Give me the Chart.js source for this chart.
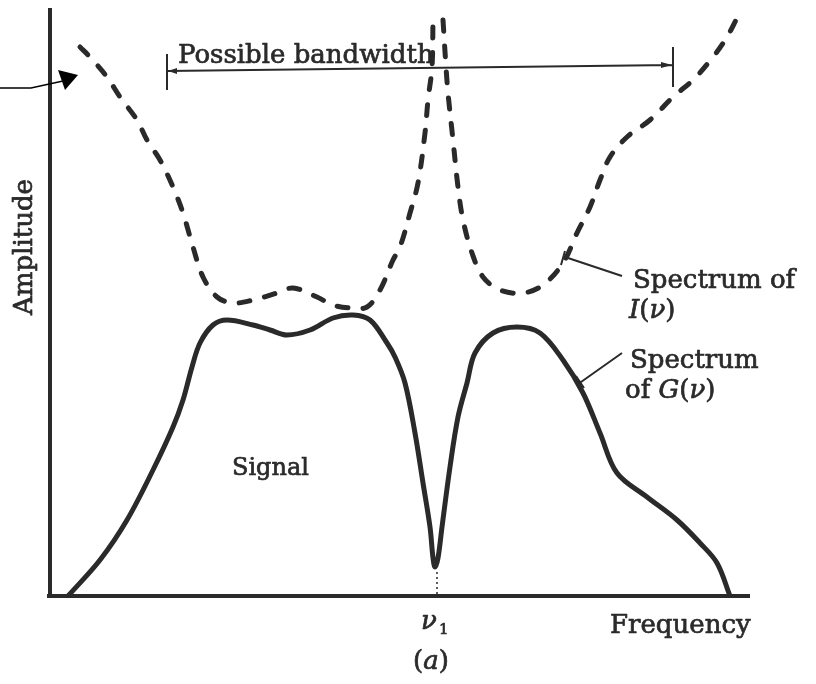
<!DOCTYPE html>
<html><head><meta charset="utf-8">
<script src="https://cdn.jsdelivr.net/npm/chart.js@4.4.1/dist/chart.umd.min.js"></script>
<style>html,body{margin:0;padding:0;background:#fff}canvas{display:block}</style>
</head><body>
<canvas id="c" width="816" height="684"></canvas>
<script>
// Spectrum of G(v) (solid)
const gFreq = [18, 50, 77, 103, 123, 133, 142, 150, 163, 177, 203, 220, 237, 260, 283, 303, 320, 337, 345, 355, 365, 373, 380, 383, 385, 388, 392, 400, 408, 417, 425, 443, 467, 490, 513, 533, 550, 567, 597, 627, 650, 667, 680];
const gAmp  = [0, 36, 76, 126, 169, 196, 229, 253, 271, 276, 271, 266, 261, 266, 278, 281, 276, 253, 239, 213, 163, 113, 69, 38, 29, 38, 69, 129, 179, 213, 243, 263, 269, 263, 236, 203, 163, 123, 99, 76, 53, 33, 0];
// Spectrum of I(v) (dashed) - peak at v1 runs off the top (gap)
const iFreq = [30, 40, 57, 70, 87, 97, 110, 123, 133, 143, 153, 167, 183, 203, 227, 243, 267, 283, 300, 317, 330, 343, 350, 360, 368, 375, 378, 382, 383, 388, 393, 396, 398, 403, 408, 413, 422, 433, 450, 473, 493, 513, 527, 540, 550, 560, 577, 600, 623, 643, 663, 677, 687];
const iAmp  = [549, 539, 519, 499, 476, 456, 436, 409, 383, 349, 319, 299, 293, 296, 303, 308, 299, 291, 288, 289, 306, 336, 349, 383, 413, 463, 496, 529, 576, null, 576, 529, 503, 456, 409, 376, 343, 319, 306, 303, 311, 333, 363, 389, 416, 439, 459, 476, 499, 516, 539, 559, 578];
const nu1 = 386;
const bandwidthFrom = 117, bandwidthTo = 623;
const bandwidthLevelFrom = 525, bandwidthLevelTo = 531;
const xMax = 700, yMax = 588;

const INK = '#2a2a2a';
const FONT = '"DejaVu Serif", "Liberation Serif", serif';

function toPts(xs, ys) { return xs.map((x, k) => ({ x: x, y: ys[k] })); }

function drawRuns(ctx, x, y, parts, size) {
  for (const p of parts) {
    ctx.font = (p.i ? 'italic ' : '') + size + 'px ' + FONT;
    ctx.strokeText(p.t, x, y);
    ctx.fillText(p.t, x, y);
    x += ctx.measureText(p.t).width;
  }
}

const decor = {
  id: 'decor',
  afterDatasetsDraw(chart) {
    const ctx = chart.ctx;
    const X = chart.scales.x, Y = chart.scales.y;
    const px = v => X.getPixelForValue(v), py = v => Y.getPixelForValue(v);
    ctx.save();
    ctx.strokeStyle = INK; ctx.fillStyle = INK; ctx.lineCap = 'butt';
    // axes
    ctx.lineWidth = 4;
    ctx.beginPath();
    ctx.moveTo(px(0), py(yMax)); ctx.lineTo(px(0), py(0) + 2);
    ctx.moveTo(px(0) - 3, py(0)); ctx.lineTo(px(xMax), py(0));
    ctx.stroke();
    // dotted line at v1
    ctx.lineWidth = 1.5; ctx.setLineDash([2, 3]);
    ctx.beginPath(); ctx.moveTo(px(nu1) + 1, py(24)); ctx.lineTo(px(nu1) + 1, py(0)); ctx.stroke();
    ctx.setLineDash([]);
    // bandwidth bracket
    const bx1 = px(bandwidthFrom), by1 = py(bandwidthLevelFrom);
    const bx2 = px(bandwidthTo), by2 = py(bandwidthLevelTo);
    ctx.lineWidth = 2;
    ctx.beginPath();
    ctx.moveTo(bx1, by1); ctx.lineTo(bx2, by2);
    ctx.moveTo(bx1, by1 - 17); ctx.lineTo(bx1, by1 + 19);
    ctx.moveTo(bx2, by2 - 18); ctx.lineTo(bx2, by2 + 22);
    ctx.stroke();
    ctx.beginPath();
    ctx.moveTo(bx1 + 1, by1); ctx.lineTo(bx1 + 10, by1 - 3); ctx.lineTo(bx1 + 10, by1 + 3); ctx.closePath();
    ctx.moveTo(bx2 - 1, by2); ctx.lineTo(bx2 - 12, by2 - 3); ctx.lineTo(bx2 - 12, by2 + 3); ctx.closePath();
    ctx.fill();
    // leader lines
    ctx.lineWidth = 2;
    ctx.beginPath();
    ctx.moveTo(622, 276); ctx.lineTo(568, 258);
    ctx.moveTo(565, 251); ctx.lineTo(561, 265);
    ctx.moveTo(622, 353); ctx.lineTo(581, 382);
    ctx.moveTo(576, 376); ctx.lineTo(584, 388);
    ctx.stroke();
    // pointer arrow at top-left
    ctx.strokeStyle = '#000'; ctx.fillStyle = '#000'; ctx.lineWidth = 1.3;
    ctx.beginPath(); ctx.moveTo(0, 88); ctx.lineTo(31, 88); ctx.lineTo(63, 81); ctx.stroke();
    ctx.beginPath(); ctx.moveTo(58, 70); ctx.lineTo(78, 75); ctx.lineTo(65, 90); ctx.closePath(); ctx.fill();
    // texts
    ctx.fillStyle = INK; ctx.strokeStyle = INK; ctx.lineWidth = 0.7; ctx.lineJoin = 'round';
    ctx.textBaseline = 'alphabetic'; ctx.textAlign = 'left';
    drawRuns(ctx, 178, 63, [{ t: 'Possible bandwidth' }], 26);
    drawRuns(ctx, 633, 288, [{ t: 'Spectrum of' }], 26);
    drawRuns(ctx, 629, 318, [{ t: 'I', i: 1 }, { t: '(' }, { t: 'ν', i: 1 }, { t: ')' }], 26);
    drawRuns(ctx, 630, 368, [{ t: 'Spectrum' }], 26);
    drawRuns(ctx, 625, 398, [{ t: 'of ' }, { t: 'G', i: 1 }, { t: '(' }, { t: 'ν', i: 1 }, { t: ')' }], 26);
    drawRuns(ctx, 232, 475, [{ t: 'Signal' }], 24);
    drawRuns(ctx, 610, 633, [{ t: 'Frequency' }], 26);
    drawRuns(ctx, 421, 629, [{ t: 'ν', i: 1 }], 26);
    drawRuns(ctx, 439, 634, [{ t: '1' }], 15);
    drawRuns(ctx, 413, 669, [{ t: '(' }, { t: 'a', i: 1 }, { t: ')' }], 26);
    ctx.save();
    ctx.translate(32, 315); ctx.rotate(-Math.PI / 2);
    drawRuns(ctx, 0, 0, [{ t: 'Amplitude' }], 26);
    ctx.restore();
    ctx.restore();
  }
};

new Chart(document.getElementById('c'), {
  type: 'scatter',
  data: {
    datasets: [
      { label: 'Spectrum of G(ν)', data: toPts(gFreq, gAmp), showLine: true, borderColor: INK, borderWidth: 5, pointRadius: 0, tension: 0.35, borderJoinStyle: 'round', borderCapStyle: 'round' },
      { label: 'Spectrum of I(ν)', data: toPts(iFreq, iAmp), showLine: true, spanGaps: false, borderColor: INK, borderWidth: 5, borderDash: [11, 15], borderCapStyle: 'round', pointRadius: 0, tension: 0.35 }
    ]
  },
  options: {
    responsive: false, animation: false, devicePixelRatio: 1,
    layout: { padding: { left: 50, right: 66, top: 8, bottom: 88 } },
    scales: {
      x: { type: 'linear', min: 0, max: xMax, display: false },
      y: { type: 'linear', min: 0, max: yMax, display: false }
    },
    plugins: { legend: { display: false }, tooltip: { enabled: false } }
  },
  plugins: [decor]
});
</script>
</body></html>
